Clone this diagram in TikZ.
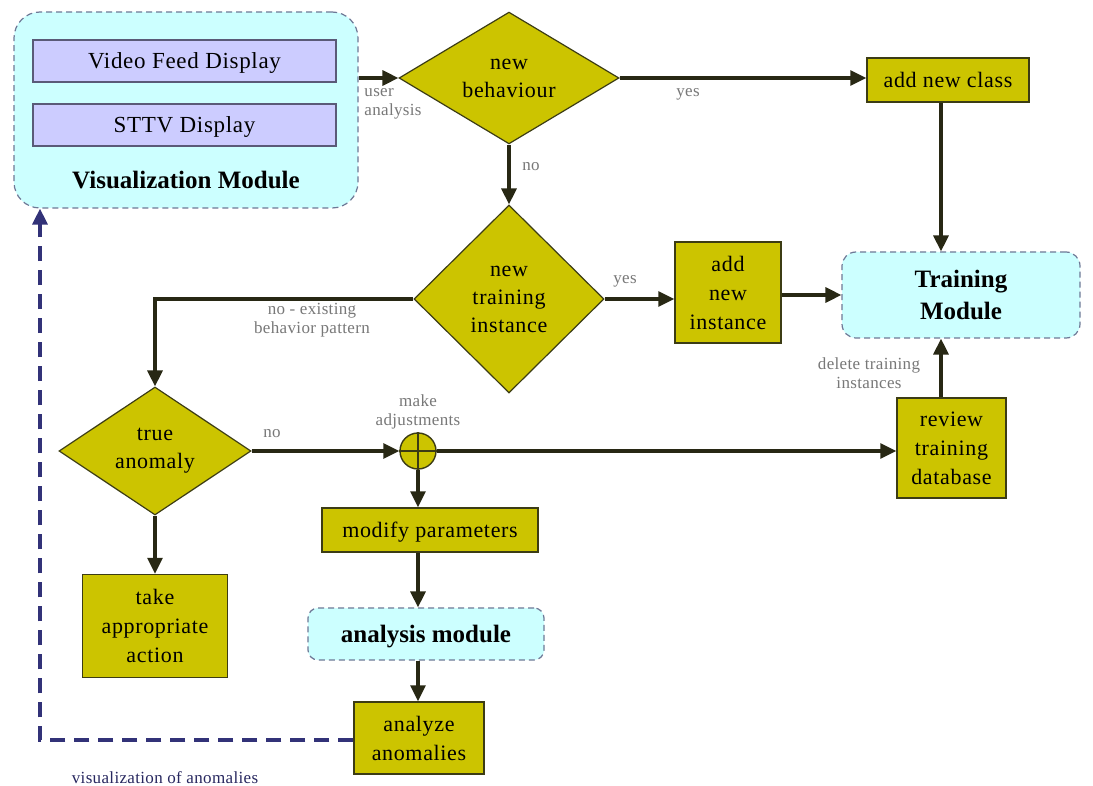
\documentclass[tikz,border=0pt]{standalone}
\usepackage{fontspec}
\setmainfont{Liberation Serif}
\newfontfamily\boxfont[LetterSpace=3]{Liberation Serif}
\newfontfamily\lblfont[LetterSpace=2]{Liberation Serif}
\usetikzlibrary{shapes.geometric,arrows.meta,calc}
\definecolor{olivefill}{RGB}{204,196,0}
\definecolor{olivedraw}{RGB}{60,60,20}
\definecolor{arrowcol}{RGB}{40,40,20}
\definecolor{modfill}{RGB}{204,255,255}
\definecolor{moddraw}{RGB}{110,120,150}
\definecolor{lavfill}{RGB}{204,204,255}
\definecolor{lavdraw}{RGB}{90,90,120}
\definecolor{lblgray}{RGB}{120,120,120}
\definecolor{navydash}{RGB}{50,50,120}
\tikzset{
  procbox/.style={draw=olivedraw, fill=olivefill, line width=1.5pt, inner sep=0pt,
     font=\boxfont\fontsize{22}{24}\selectfont, align=center, text=black},
  onebox/.style={procbox, text depth=0pt},
  multibox/.style={procbox, font=\boxfont\fontsize{22}{29}\selectfont},
  decbox/.style={diamond, draw=olivedraw, fill=olivefill, line width=1.2pt, inner sep=0pt,
     font=\boxfont\fontsize{22}{28}\selectfont, align=center, text=black},
  modbox/.style={draw=moddraw, fill=modfill, dashed, dash pattern=on 6pt off 4pt, line width=1.2pt,
     rounded corners=14pt, inner sep=0pt, align=center, font=\bfseries\fontsize{24}{30}\selectfont},
  lavbox/.style={draw=lavdraw, fill=lavfill, line width=1.3pt, inner sep=0pt, text depth=0pt,
     font=\boxfont\fontsize{23}{24}\selectfont},
  conn/.style={draw=arrowcol, line width=3.2pt, -{Triangle[length=16pt,width=15pt]}},
  lbl/.style={text=lblgray, font=\lblfont\fontsize{17}{19}\selectfont, align=center, inner sep=0pt}
}
\begin{document}
\begin{tikzpicture}[x=1pt,y=-1pt]
\useasboundingbox[fill=white] (0,0) rectangle (1093,786);

% Visualization module
\node[modbox, rounded corners=26pt, minimum width=344pt, minimum height=196pt] (vis) at (186,110) {};
\node[lavbox, minimum width=303pt, minimum height=42pt] (vfd) at (184.5,61) {Video Feed Display};
\node[lavbox, minimum width=303pt, minimum height=42pt] (sttv) at (184.5,125) {STTV Display};
\node[font=\bfseries\fontsize{25}{30}\selectfont, inner sep=0pt] (vistxt) at (186,180) {Visualization Module};

% decisions
\node[decbox, minimum width=220pt, minimum height=130pt] (nb) at (509,78) {new\\behaviour};
\node[decbox, minimum width=190pt, minimum height=188pt] (nti) at (509,299) {new\\training\\instance};
\node[decbox, minimum width=192pt, minimum height=128pt] (ta) at (155,451) {true\\anomaly};

% process boxes
\node[onebox, minimum width=162pt, minimum height=44pt] (anc) at (948,80) {add new class};
\node[multibox, minimum width=106pt, minimum height=101pt] (ani) at (728,292.5) {add\\new\\instance};
\node[multibox, minimum width=109pt, minimum height=100pt] (rtd) at (951.5,448) {review\\training\\database};
\node[onebox, minimum width=216pt, minimum height=44pt] (mp) at (430,530) {modify parameters};
\node[multibox, minimum width=145pt, minimum height=103pt] (taa) at (155,626) {take\\appropriate\\action};
\node[multibox, minimum width=130pt, minimum height=72pt] (aa) at (419,738) {analyze\\anomalies};

% modules
\node[modbox, minimum width=238pt, minimum height=86pt, font=\bfseries\fontsize{25}{32}\selectfont] (tm) at (961,295) {Training\\Module};
\node[modbox, minimum width=236pt, minimum height=52pt, rounded corners=10pt, text depth=0pt, font=\bfseries\fontsize{25}{30}\selectfont] (am) at (426,634) {analysis module};

% summing junction
\node[circle, draw=olivedraw, fill=olivefill, line width=1.4pt, minimum size=36pt, inner sep=0pt] (sj) at (418,451) {};
\draw[olivedraw, line width=1.4pt] (sj.north) -- (sj.south) (sj.west) -- (sj.east);

% connectors
\draw[conn] (vis.east |- nb.west) -- (nb.west);
\node[lbl, align=left] (lua) at (393,104) {user\\analysis};

\draw[conn] (nb.east) -- (anc.west |- nb.east);
\node[lbl] (lyes1) at (688,94) {yes};

\draw[conn] (nb.south) -- (nti.north);
\node[lbl] (lno1) at (531,167) {no};

\coordinate (ancx) at (941,0);
\draw[conn] (anc.south -| ancx) -- (tm.north -| ancx);

\draw[conn] (nti.east) -- (ani.west |- nti.east);
\node[lbl] (lyes2) at (625,281) {yes};

\draw[conn] (ani.east |- tm.west) -- (tm.west);

\draw[conn] (nti.west) -| (ta.north);
\node[lbl] (lnoex) at (312,320) {no - existing\\behavior pattern};

\draw[conn] (ta.east) -- (sj.west);
\node[lbl] (lno2) at (272,434) {no};

\draw[conn] (sj.east) -- (rtd.west |- sj.east);
\node[lbl] (lmake) at (418,412) {make\\adjustments};

\draw[conn] (sj.south) -- (mp.north -| sj.south);
\draw[conn] (mp.south -| sj.south) -- (am.north -| sj.south);
\draw[conn] (am.south -| sj.south) -- (aa.north -| sj.south);

\draw[conn] (rtd.north -| ancx) -- (tm.south -| ancx);
\node[lbl] (ldel) at (869,373) {delete training\\instances};

\draw[conn] (ta.south) -- (taa.north);

% dashed feedback
\coordinate (fbx) at (40,0);
\draw[draw=navydash, line width=3.2pt, dash pattern=on 15pt off 9pt, -{Triangle[length=16pt,width=15pt]}]
  (aa.west |- 0,740) -| (vis.south -| fbx);
\node[text=navydash!80!black, font=\lblfont\fontsize{17}{19}\selectfont, inner sep=0pt] (lvis) at (165,778) {visualization of anomalies};
\end{tikzpicture}
\end{document}
